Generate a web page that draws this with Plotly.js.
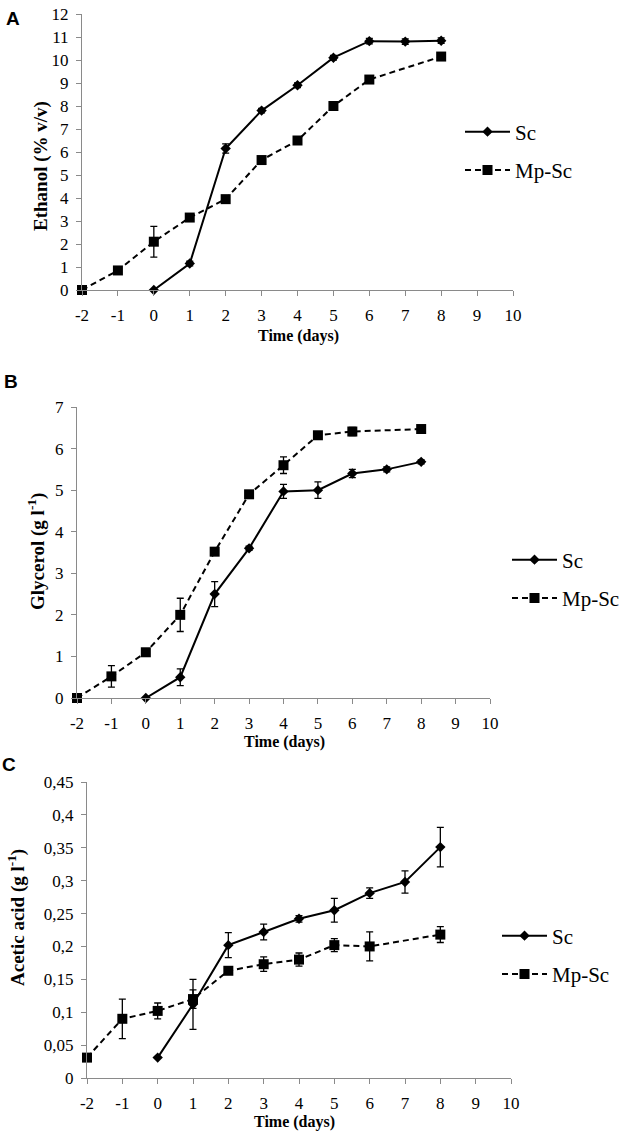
<!DOCTYPE html>
<html>
<head>
<meta charset="utf-8">
<script src="https://cdn.plot.ly/plotly-3.0.1.min.js"></script>
<style>
html,body{margin:0;padding:0;background:#fff;}
#chart{width:634px;height:1140px;}
#chart .xtick text, #chart .ytick text, #chart .x2tick text, #chart .y2tick text,
#chart .x3tick text, #chart .y3tick text, #chart .legendtext {
  font-family: 'Liberation Serif', 'Times New Roman', serif !important;
}
</style>
</head>
<body>
<div id="chart"></div>
<script>
// ---------- data ----------
const daysSc = [0, 1, 2, 3, 4, 5, 6, 7, 8];
const daysMp = [-2, -1, 0, 1, 2, 3, 4, 5, 6, 8];

const ethanolSc    = [0, 1.15, 6.15, 7.8, 8.9, 10.1, 10.82, 10.8, 10.84];
const ethanolScErr = [0, 0.1, 0.2, 0.1, 0.1, 0.1, 0.12, 0.12, 0.12];
const ethanolMp    = [0, 0.85, 2.1, 3.15, 3.95, 5.65, 6.5, 8.0, 9.15, 10.15];
const ethanolMpErr = [0, 0.05, 0.67, 0.1, 0.1, 0.1, 0.1, 0.1, 0.1, 0.1];

const glycerolSc    = [0, 0.5, 2.5, 3.6, 4.97, 5.0, 5.4, 5.5, 5.68];
const glycerolScErr = [0, 0.2, 0.3, 0.05, 0.17, 0.2, 0.1, 0.06, 0.05];
const glycerolMp    = [0, 0.52, 1.1, 2.0, 3.52, 4.9, 5.6, 6.32, 6.41, 6.47];
const glycerolMpErr = [0, 0.26, 0.05, 0.4, 0.05, 0.05, 0.2, 0.05, 0.1, 0.05];

const aceticSc    = [0.031, 0.112, 0.202, 0.222, 0.242, 0.255, 0.281, 0.298, 0.351];
const aceticScErr = [0, 0.038, 0.019, 0.012, 0.005, 0.018, 0.008, 0.017, 0.03];
const aceticMp    = [0.031, 0.09, 0.102, 0.12, 0.163, 0.173, 0.18, 0.202, 0.2, 0.218];
const aceticMpErr = [0, 0.03, 0.012, 0.014, 0.004, 0.011, 0.01, 0.01, 0.022, 0.012];

const xTickVals = [-2, -1, 0, 1, 2, 3, 4, 5, 6, 7, 8, 9, 10];
const xTickText = ['-2', '-1', '0', '1', '2', '3', '4', '5', '6', '7', '8', '9', '10'];
const aceticTickVals = [0, 0.05, 0.1, 0.15, 0.2, 0.25, 0.3, 0.35, 0.4, 0.45];
const aceticTickText = ['0', '0,05', '0,1', '0,15', '0,2', '0,25', '0,3', '0,35', '0,4', '0,45'];

const seriesNames = ['Sc', 'Mp-Sc'];
const panelLabels = ['A', 'B', 'C'];
const xTitle = 'Time (days)';
const yTitles = ['Ethanol (% v/v)', 'Glycerol (g l<sup>-1</sup>)', 'Acetic acid (g l<sup>-1</sup>)'];

// ---------- layout helpers ----------
const W = 634, H = 1140;
const px = v => v / W;
const py = v => 1 - v / H;

const SERIF = 'Liberation Serif, Times New Roman, serif';
const SANS = 'Liberation Sans, Arial, sans-serif';
const AXIS_GRAY = '#8a8a8a';

function scTrace(x, y, err, axN, leg) {
  return {
    x: x, y: y, name: seriesNames[0], type: 'scatter', mode: 'lines+markers',
    xaxis: 'x' + (axN === 1 ? '' : axN), yaxis: 'y' + (axN === 1 ? '' : axN),
    legend: leg, legendgroup: 'sc' + axN,
    line: {color: '#000', width: 2},
    marker: {symbol: 'diamond', size: 8, color: '#000'},
    error_y: {type: 'data', array: err, visible: true, color: '#000', thickness: 1.3, width: 3.5},
    cliponaxis: false
  };
}
function mpTrace(x, y, err, axN, leg) {
  return {
    x: x, y: y, name: seriesNames[1], type: 'scatter', mode: 'lines+markers',
    xaxis: 'x' + (axN === 1 ? '' : axN), yaxis: 'y' + (axN === 1 ? '' : axN),
    legend: leg, legendgroup: 'mp' + axN,
    line: {color: '#000', width: 2, dash: '6px,4px'},
    marker: {symbol: 'square', size: 10, color: '#000'},
    error_y: {type: 'data', array: err, visible: true, color: '#000', thickness: 1.3, width: 3.5},
    cliponaxis: false
  };
}

const data = [
  scTrace(daysSc, ethanolSc, ethanolScErr, 1, 'legend'),
  mpTrace(daysMp, ethanolMp, ethanolMpErr, 1, 'legend'),
  scTrace(daysSc, glycerolSc, glycerolScErr, 2, 'legend2'),
  mpTrace(daysMp, glycerolMp, glycerolMpErr, 2, 'legend2'),
  scTrace(daysSc, aceticSc, aceticScErr, 3, 'legend3'),
  mpTrace(daysMp, aceticMp, aceticMpErr, 3, 'legend3')
];

function xAxis(x0, x1, anchor) {
  return {
    domain: [px(x0), px(x1)], anchor: anchor, range: [-2, 10],
    tickvals: xTickVals, ticktext: xTickText,
    showline: true, linecolor: AXIS_GRAY, linewidth: 1,
    ticks: 'outside', ticklen: 5, tickcolor: AXIS_GRAY, tickwidth: 1,
    ticklabelstandoff: 5,
    showgrid: false, zeroline: false, fixedrange: true,
    tickfont: {family: SERIF, size: 17, color: '#000'}
  };
}
function yAxis(y0px, y1px, anchor, range, extra) {
  return Object.assign({
    domain: [py(y0px), py(y1px)], anchor: anchor, range: range,
    showline: true, linecolor: AXIS_GRAY, linewidth: 1,
    ticks: 'outside', ticklen: 5, tickcolor: AXIS_GRAY, tickwidth: 1,
    ticklabelstandoff: 4,
    showgrid: false, zeroline: false, fixedrange: true,
    tickfont: {family: SERIF, size: 17, color: '#000'}
  }, extra);
}

function legendAt(x, y) {
  return {
    x: px(x), y: py(y), xanchor: 'left', yanchor: 'middle', bgcolor: 'rgba(0,0,0,0)',
    font: {family: SERIF, size: 21, color: '#000'}, tracegroupgap: 8, itemwidth: 45
  };
}

const xTitleFont = {family: SERIF, size: 16, color: '#000'};
const yTitleFont = {family: SERIF, size: 19, color: '#000'};
const letterFont = {family: SANS, size: 19, color: '#000'};
function ann(text, x, y, font, angle) {
  return {text: text, x: px(x), y: py(y), xref: 'paper', yref: 'paper', showarrow: false,
          xanchor: 'center', yanchor: 'middle', textangle: angle || 0, font: font};
}
const annotations = [
  ann('<b>' + panelLabels[0] + '</b>', 13, 18, letterFont),
  ann('<b>' + panelLabels[1] + '</b>', 11, 381, letterFont),
  ann('<b>' + panelLabels[2] + '</b>', 9, 764, letterFont),
  ann('<b>' + xTitle + '</b>', 298, 336, xTitleFont),
  ann('<b>' + xTitle + '</b>', 284, 742, xTitleFont),
  ann('<b>' + xTitle + '</b>', 294, 1122, xTitleFont),
  ann('<b>' + yTitles[0] + '</b>', 41, 166, yTitleFont, -90),
  ann('<b>' + yTitles[1] + '</b>', 36, 552, yTitleFont, -90),
  ann('<b>' + yTitles[2] + '</b>', 17, 918, yTitleFont, -90)
];

const layout = {
  width: W, height: H,
  margin: {l: 0, r: 0, t: 0, b: 0},
  paper_bgcolor: '#fff', plot_bgcolor: 'rgba(0,0,0,0)',
  showlegend: true,
  xaxis: xAxis(82, 513, 'y'),
  yaxis: yAxis(290, 14, 'x', [0, 12], {dtick: 1, tick0: 0}),
  xaxis2: xAxis(77, 490, 'y2'),
  yaxis2: yAxis(698, 407, 'x2', [0, 7], {dtick: 1, tick0: 0}),
  xaxis3: xAxis(87, 511, 'y3'),
  yaxis3: yAxis(1078, 782, 'x3', [0, 0.45], {tickvals: aceticTickVals, ticktext: aceticTickText}),
  legend: legendAt(460, 151),
  legend2: legendAt(507, 579),
  legend3: legendAt(497, 955),
  annotations: annotations
};

Plotly.newPlot('chart', data, layout, {staticPlot: true, displayModeBar: false});
</script>
</body>
</html>
